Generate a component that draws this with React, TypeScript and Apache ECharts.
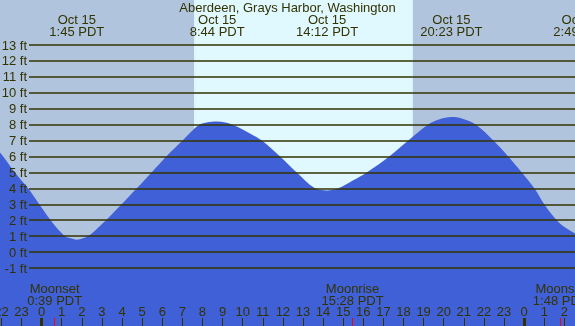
import React, { useEffect, useRef } from 'react';
import * as echarts from 'echarts';

const TITLE = 'Aberdeen, Grays Harbor, Washington';

// View window (hours relative to Oct 15 00:00)
const viewStart = -2.07;
const viewEnd = 26.53;

// Tide curve samples: hour, height in ft
const curveHours = [
  -2.07, -1.91, -1.33, -0.67, -0.12, 0.45, 0.91, 1.16, 1.41, 1.75, 2.05, 2.37, 2.78, 3.2, 3.98, 4.73,
  5.47, 6.2, 7.01, 7.4, 7.79, 8.2, 8.73, 9.15, 9.52, 10.0, 10.45, 10.95, 11.86, 12.69, 13.6, 14.2,
  14.76, 15.5, 16.17, 17.29, 18.24, 19.23, 19.8, 20.38, 20.9, 21.59, 22.47, 23.21, 23.88, 24.51,
  25.0, 25.62, 26.03, 26.53,
];
const curveFeet = [
  6.25, 6.0, 5.0, 4.0, 3.0, 2.0, 1.3, 1.0, 0.88, 0.78, 0.86, 1.05, 1.5, 2.0, 3.0, 4.0,
  5.0, 6.0, 7.0, 7.5, 7.95, 8.13, 8.19, 8.13, 7.98, 7.7, 7.38, 7.0, 6.0, 5.0, 4.0, 3.87,
  4.0, 4.5, 5.0, 6.0, 7.0, 8.0, 8.33, 8.47, 8.38, 8.0, 7.0, 6.0, 5.0, 4.0,
  3.0, 2.0, 1.55, 1.17,
];

// High / low tide events shown at the top
const tideDates = ['Oct 15', 'Oct 15', 'Oct 15', 'Oct 15', 'Oct 16'];
const tideClock = ['1:45', '8:44', '14:12', '20:23', '2:49'];
const tideDayOffset = [0, 0, 0, 0, 1];

// Moon events shown at the bottom
const moonNames = ['Moonset', 'Moonrise', 'Moonset'];
const moonClock = ['0:39', '15:28', '1:48'];
const moonDayOffset = [0, 0, 1];

// Sun (daylight band)
const sunriseClock = '7:35';
const sunsetClock = '18:28';

// Axis ticks
const hourTicks = [-2, -1, 0, 1, 2, 3, 4, 5, 6, 7, 8, 9, 10, 11, 12, 13, 14, 15, 16, 17, 18, 19, 20, 21, 22, 23, 24, 25, 26];
const midnightTicks = [0, 24];
const feetTicks = [-1, 0, 1, 2, 3, 4, 5, 6, 7, 8, 9, 10, 11, 12, 13];

// Vertical range of the full plot (ft)
const yBottom = -4.64;
const yTop = 15.82;

const FONT = '"Liberation Sans", Arial, sans-serif';
const TEXT = '#333300';
const NIGHT = '#b0c4de';
const DAY = '#e0f8ff';
const WATER = '#4060d8';

const toHours = (clock: string, dayOffset = 0) => {
  const [h, m] = clock.split(':').map(Number);
  return dayOffset * 24 + h + m / 60;
};

const tideTimes = tideClock.map((c, i) => toHours(c, tideDayOffset[i]));
const moonTimes = moonClock.map((c, i) => toHours(c, moonDayOffset[i]));

const nearestIndex = (arr: number[], v: number) => {
  let best = 0;
  for (let i = 1; i < arr.length; i++) if (Math.abs(arr[i] - v) < Math.abs(arr[best] - v)) best = i;
  return best;
};

const hidden = {
  show: false,
  axisLine: { show: false, onZero: false },
  axisTick: { show: false },
  axisLabel: { show: false },
  splitLine: { show: false },
};

export default function App() {
  const ref = useRef<HTMLDivElement>(null);
  useEffect(() => {
    const chart = echarts.init(ref.current!, null, { renderer: 'svg' });
    const H = 326;
    const gridTop = Math.round((H * (yTop - feetTicks[feetTicks.length - 1])) / (yTop - yBottom));
    const gridBottom = Math.round((H * (feetTicks[0] - yBottom)) / (yTop - yBottom));
    const bottomAxisBase = {
      type: 'value', gridIndex: 0, min: viewStart, max: viewEnd, position: 'bottom',
      axisLine: { show: false, onZero: false }, splitLine: { show: false }, z: 5,
    };
    chart.setOption({
      animation: false,
      title: {
        text: TITLE,
        left: 'center',
        top: 1,
        padding: 0,
        textStyle: { fontFamily: FONT, fontSize: 13, fontWeight: 'normal', color: TEXT, lineHeight: 13 },
      },
      grid: [
        { left: 0, right: 0, top: 0, bottom: 0, show: true, backgroundColor: NIGHT, borderWidth: 0, containLabel: false, outerBoundsMode: 'none' },
        { left: 29, right: 0, top: gridTop, bottom: gridBottom, show: false, containLabel: false, outerBoundsMode: 'none' },
      ],
      xAxis: [
        {
          ...bottomAxisBase,
          axisTick: { show: true, inside: true, length: 8, customValues: hourTicks, lineStyle: { color: TEXT, width: 1 } },
          axisLabel: {
            show: true, inside: true, margin: 8, customValues: hourTicks,
            fontFamily: FONT, fontSize: 13, color: TEXT, lineHeight: 13,
            formatter: (v: number) => String(((Math.round(v) % 24) + 24) % 24),
          },
        },
        {
          ...bottomAxisBase,
          axisTick: { show: true, inside: true, length: 8, customValues: midnightTicks, lineStyle: { color: TEXT, width: 3 } },
          axisLabel: { show: false },
        },
        {
          ...bottomAxisBase,
          axisTick: { show: true, inside: true, length: 8, customValues: moonTimes, lineStyle: { color: '#ff0000', width: 1 } },
          axisLabel: {
            show: true, inside: true, margin: 20, customValues: moonTimes,
            fontFamily: FONT, fontSize: 13, color: TEXT, lineHeight: 12,
            formatter: (v: number) => {
              const i = nearestIndex(moonTimes, v);
              return moonNames[i] + '\n' + moonClock[i] + ' PDT';
            },
          },
        },
        { type: 'value', gridIndex: 1, min: 0, max: 1, ...hidden },
      ],
      yAxis: [
        { type: 'value', gridIndex: 0, min: yBottom, max: yTop, ...hidden },
        {
          type: 'value', gridIndex: 1, min: feetTicks[0], max: feetTicks[feetTicks.length - 1], interval: 1,
          axisLine: { show: false, onZero: false }, axisTick: { show: false },
          splitLine: { show: true, lineStyle: { color: TEXT, width: 1.5 } },
          axisLabel: { show: true, margin: 2, fontFamily: FONT, fontSize: 13, color: TEXT, formatter: '{value} ft' },
          z: 10,
        },
      ],
      series: [
        {
          type: 'line', xAxisIndex: 0, yAxisIndex: 0, data: [], z: 1, silent: true,
          markArea: {
            silent: true,
            label: { show: false },
            itemStyle: { color: DAY },
            data: [[{ xAxis: toHours(sunriseClock) }, { xAxis: toHours(sunsetClock) }]],
          },
        },
        {
          type: 'line', xAxisIndex: 0, yAxisIndex: 0, z: 2,
          data: curveHours.map((h, i) => [h, curveFeet[i]]),
          smooth: 0.35,
          showSymbol: false,
          lineStyle: { width: 0, opacity: 0 },
          areaStyle: { color: WATER, opacity: 1, origin: 'start' },
          silent: true,
        },
      ],
    });

    // Tide event labels at the top, positioned through the x axis scale
    const graphics: any[] = [];
    tideTimes.forEach((t, i) => {
      const px = chart.convertToPixel({ xAxisIndex: 0 }, t) as number;
      [tideDates[i], tideClock[i] + ' PDT'].forEach((txt, j) => {
        graphics.push({
          type: 'text', x: px, y: 19.5 + j * 12, z: 20, silent: true,
          style: {
            text: txt, fill: TEXT, fontFamily: FONT, fontSize: 13,
            align: 'center', verticalAlign: 'middle', textAlign: 'center', textVerticalAlign: 'middle',
          },
        });
      });
    });
    chart.setOption({ graphic: graphics });

    return () => chart.dispose();
  }, []);
  return <div ref={ref} style={{ position: 'fixed', left: 0, top: 0, width: 575, height: 326 }} />;
}
